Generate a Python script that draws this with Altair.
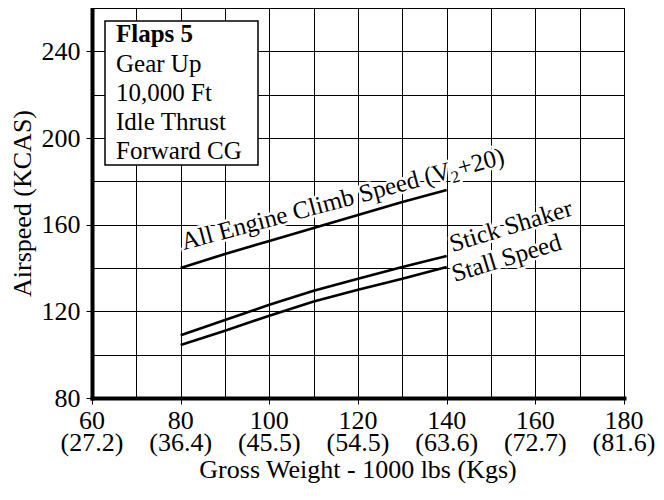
import altair as alt
import pandas as pd

# ---- data ----
weight = [80, 90, 100, 110, 120, 130, 140]
climb = [140, 146.5, 152.5, 158.5, 164.5, 170.5, 176]
shaker = [109, 116, 123, 129.5, 135, 140.5, 145.5]
stall = [104.5, 111, 118, 124.5, 130, 135, 140.5]
series_names = ["All Engine Climb Speed", "Stick Shaker", "Stall Speed"]

x_ticks = [60, 80, 100, 120, 140, 160, 180]
x_kgs = ["(27.2)", "(36.4)", "(45.5)", "(54.5)", "(63.6)", "(72.7)", "(81.6)"]
x_grid = [60, 70, 80, 90, 100, 110, 120, 130, 140, 150, 160, 170, 180]
y_ticks = [80, 120, 160, 200, 240]
y_grid = [80, 100, 120, 140, 160, 180, 200, 220, 240, 260]
legend_lines = ["Flaps 5", "Gear Up", "10,000 Ft", "Idle Thrust", "Forward CG"]
x_title = "Gross Weight - 1000 lbs (Kgs)"
y_title = "Airspeed (KCAS)"

FONT = "Liberation Serif"
W, H = 532, 390

rows = []
for name, vals in zip(series_names, [climb, shaker, stall]):
    for w, s in zip(weight, vals):
        rows.append({"series": name, "w": w, "s": s})
df = pd.DataFrame(rows)

y_list = "[" + ",".join(str(v) for v in y_ticks) + "]"
x_list = "[" + ",".join(str(v) for v in x_ticks) + "]"

x_axis = alt.Axis(
    values=x_grid,
    labels=False,
    tickOpacity={"condition": {"test": f"indexof({x_list}, datum.value) >= 0", "value": 1}, "value": 0},
    grid=True,
    title=None,
)
y_axis = alt.Axis(
    values=y_grid,
    labelExpr=f"indexof({y_list}, datum.value) >= 0 ? datum.label : ''",
    tickOpacity={"condition": {"test": f"indexof({y_list}, datum.value) >= 0", "value": 1}, "value": 0},
    grid=True,
    labelFlush=False,
    labelOverlap=False,
    labelPadding=6,
    title=y_title,
    titlePadding=6,
)
X = alt.X("w:Q", scale=alt.Scale(domain=[60, 180], nice=False, zero=False), axis=x_axis)
Y = alt.Y("s:Q", scale=alt.Scale(domain=[80, 260], nice=False, zero=False), axis=y_axis)

lines = alt.Chart(df).mark_line(color="black", strokeWidth=2.6).encode(
    x=X, y=Y, detail="series:N"
)

# x tick labels (two lines) and x title
xt = pd.DataFrame({"w": x_ticks, "lbs": [str(v) for v in x_ticks], "kgs": x_kgs})
xlab1 = alt.Chart(xt).mark_text(align="center", baseline="alphabetic", font=FONT,
                                fontSize=26, color="black").encode(
    x=X, y=alt.value(H + 31), text="lbs:N")
xlab2 = alt.Chart(xt).mark_text(align="center", baseline="alphabetic", font=FONT,
                                fontSize=26, color="black").encode(
    x=X, y=alt.value(H + 53), text="kgs:N")
xtit = alt.Chart(pd.DataFrame({"t": [x_title]})).mark_text(
    align="center", baseline="alphabetic", font=FONT, fontSize=26, color="black"
).encode(x=alt.value(W / 2), y=alt.value(H + 80), text="t:N")

# legend box
box = alt.Chart(pd.DataFrame({"a": [0]})).mark_rect(
    fill="white", stroke="black", strokeWidth=1.5
).encode(x=alt.value(13), x2=alt.value(166), y=alt.value(13), y2=alt.value(157))

legend_layers = []
for i, t in enumerate(legend_lines):
    legend_layers.append(
        alt.Chart(pd.DataFrame({"t": [t]})).mark_text(
            align="left", baseline="alphabetic", font=FONT, fontSize=25,
            fontWeight="bold" if i == 0 else "normal", color="black",
        ).encode(x=alt.value(24), y=alt.value(34.3 + i * 29.2), text="t:N")
    )

# curve labels: (text pieces with size/dx/dy), anchor in data units, angle
curve_labels = [
    ([("All Engine Climb Speed (V", 25, 0, 0), ("2", 17, 277, 5), ("+20)", 25, 286, 0)],
     80.7, 148.3, 345),
    ([("Stick Shaker", 25, 0, 0)], 141.3, 147.3, 343),
    ([("Stall Speed", 25, 0, 0)], 141.8, 133.5, 343),
]

halo_layers, text_layers = [], []
for pieces, w, s, a in curve_labels:
    for t, fs, dx, dy in pieces:
        d = pd.DataFrame({"t": [t], "w": [w], "s": [s]})
        common = dict(align="left", baseline="alphabetic", font=FONT, fontSize=fs,
                      angle=a, dx=dx, dy=dy)
        halo_layers.append(alt.Chart(d).mark_text(
            color="white", stroke="white", strokeWidth=5, **common
        ).encode(x=X, y=Y, text="t:N"))
        text_layers.append(alt.Chart(d).mark_text(
            color="black", **common
        ).encode(x=X, y=Y, text="t:N"))

chart = alt.layer(box, *legend_layers, *halo_layers, lines, *text_layers,
                  xlab1, xlab2, xtit).properties(
    width=W, height=H,
    autosize=alt.AutoSizeParams(type="none"),
    padding={"left": 84, "top": 0, "right": 32, "bottom": 90},
).configure(font=FONT).configure_view(
    stroke="black", strokeWidth=1
).configure_axis(
    domainColor="black", domainWidth=4, domainCap="square",
    gridColor="black", gridOpacity=1, gridWidth=1,
    tickColor="black", tickWidth=1, tickSize=6,
    labelColor="black", labelFont=FONT, labelFontSize=26,
    titleColor="black", titleFont=FONT, titleFontSize=26, titleFontWeight="normal",
)

chart.save("out.html", embed_options={"renderer": "svg", "actions": False})
